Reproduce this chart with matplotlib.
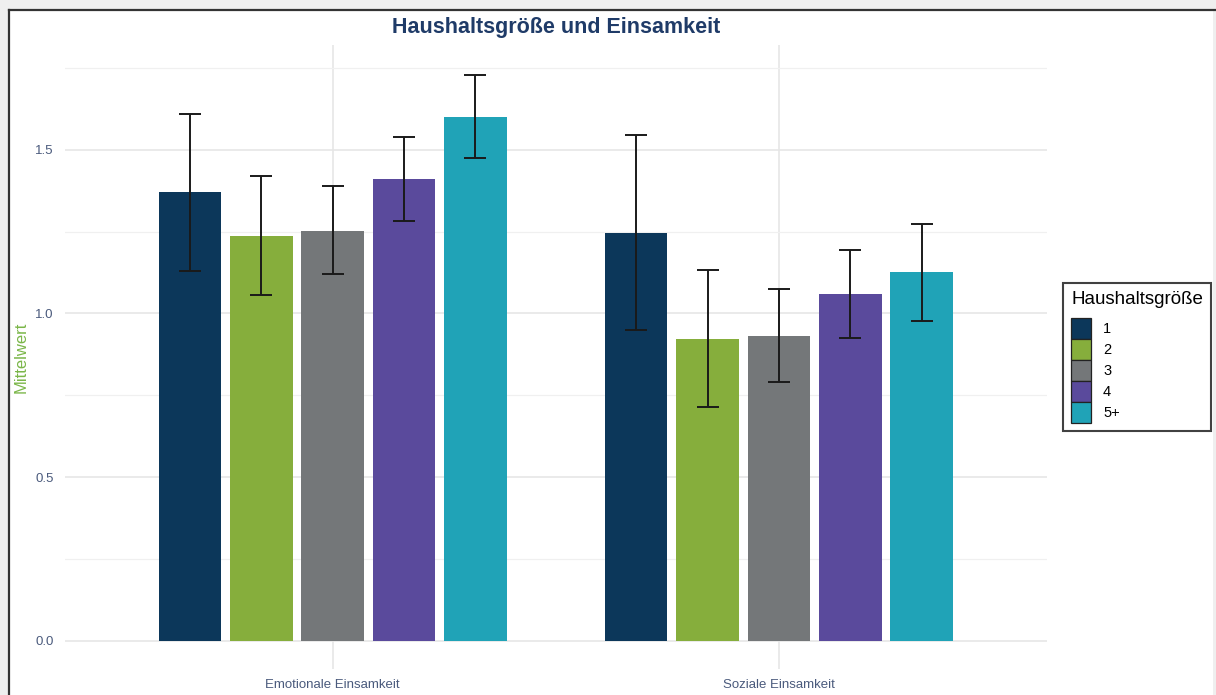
import matplotlib
matplotlib.use("Agg")
import matplotlib.pyplot as plt
import numpy as np
from matplotlib.patches import Rectangle, Patch
from matplotlib.lines import Line2D

plt.rcParams['font.family'] = ['Liberation Sans', 'DejaVu Sans']

categories = ["Emotionale Einsamkeit", "Soziale Einsamkeit"]
groups = ["1", "2", "3", "4", "5+"]
colors = ["#0c375a", "#86ae3c", "#747779", "#5a4a9c", "#20a3b7"]
means = {
    "1": [1.371, 1.246],
    "2": [1.237, 0.923],
    "3": [1.253, 0.932],
    "4": [1.411, 1.059],
    "5+": [1.600, 1.125],
}
lower = {
    "1": [1.131, 0.948],
    "2": [1.057, 0.714],
    "3": [1.120, 0.789],
    "4": [1.282, 0.926],
    "5+": [1.475, 0.977],
}
upper = {
    "1": [1.610, 1.546],
    "2": [1.419, 1.134],
    "3": [1.388, 1.076],
    "4": [1.538, 1.193],
    "5+": [1.729, 1.274],
}
yticks = [0.0, 0.5, 1.0, 1.5]
ytick_labels = ["0.0", "0.5", "1.0", "1.5"]

W, H = 1216, 695
fig = plt.figure(figsize=(W / 100, H / 100), dpi=100, facecolor="#efefef")

# page frame
fig.patches.append(Rectangle((9 / W, 0), 1 - 12 / W, 1 - 10 / H, transform=fig.transFigure,
                             facecolor="white", edgecolor="none", zorder=-2))
fig.lines.append(Line2D([9 / W, 9 / W], [0, 1 - 10 / H], transform=fig.transFigure,
                        color="#333333", lw=1.6, zorder=-1))
fig.lines.append(Line2D([9 / W, 1], [1 - 10 / H, 1 - 10 / H], transform=fig.transFigure,
                        color="#333333", lw=1.6, zorder=-1))

left, right = 65 / W, 1046.6 / W
bottom, top = 1 - 669 / H, 1 - 45 / H
ax = fig.add_axes([left, bottom, right - left, top - bottom])
ax.set_facecolor("white")

x = np.arange(1, len(categories) + 1)
spacing = 0.16
bw = 0.14
for i, g in enumerate(groups):
    off = (i - 2) * spacing
    xs = x + off
    m = np.array(means[g])
    lo = np.array(lower[g])
    up = np.array(upper[g])
    ax.bar(xs, m, width=bw, color=colors[i], zorder=2)
    ax.errorbar(xs, m, yerr=[m - lo, up - m], fmt="none", ecolor="#1a1a1a",
                elinewidth=1.4, capsize=8.2, capthick=1.4, zorder=3)

ax.set_xlim(0.4, 2.6)
ax.set_ylim(-0.0865, 1.82)
ax.set_yticks(yticks)
ax.set_yticklabels(ytick_labels)
ax.set_yticks([0.25, 0.75, 1.25, 1.75], minor=True)
ax.set_xticks(x)
ax.set_xticklabels(categories)
ax.grid(True, which="major", color="#e6e6e6", lw=1.2, zorder=0)
ax.grid(True, which="minor", axis="y", color="#f0f0f0", lw=0.9, zorder=0)
ax.set_axisbelow(True)
for s in ax.spines.values():
    s.set_visible(False)
ax.tick_params(axis="both", which="both", length=0, colors="#4a5a7c", labelsize=9.5)
ax.tick_params(axis="y", pad=8)
ax.tick_params(axis="x", pad=7)

ax.set_ylabel("Mittelwert", color="#7ab648", fontsize=12)
ax.yaxis.set_label_coords(-36 / (1046.6 - 65), 0.5)

fig.text((left + right) / 2, 1 - 27 / H, "Haushaltsgröße und Einsamkeit", ha="center", va="center",
         fontsize=15.5, fontweight="bold", color="#1f3b68")

handles = [Patch(facecolor=c, edgecolor="#222222", lw=0.9) for c in colors]
leg = fig.legend(handles, groups, title="Haushaltsgröße", loc="upper left",
                 bbox_to_anchor=(1063 / W, 1 - 283 / H), frameon=True, fancybox=False,
                 fontsize=10.5, title_fontsize=13.5, handlelength=1.4, handleheight=1.85,
                 handletextpad=0.8, labelspacing=0.0, borderpad=0.55, alignment="left",
                 borderaxespad=0)
leg._legend_box.sep = 7
leg.get_frame().set_edgecolor("#111111")
leg.get_frame().set_linewidth(1.5)

fig.savefig("out.png", dpi=100, facecolor=fig.get_facecolor())
